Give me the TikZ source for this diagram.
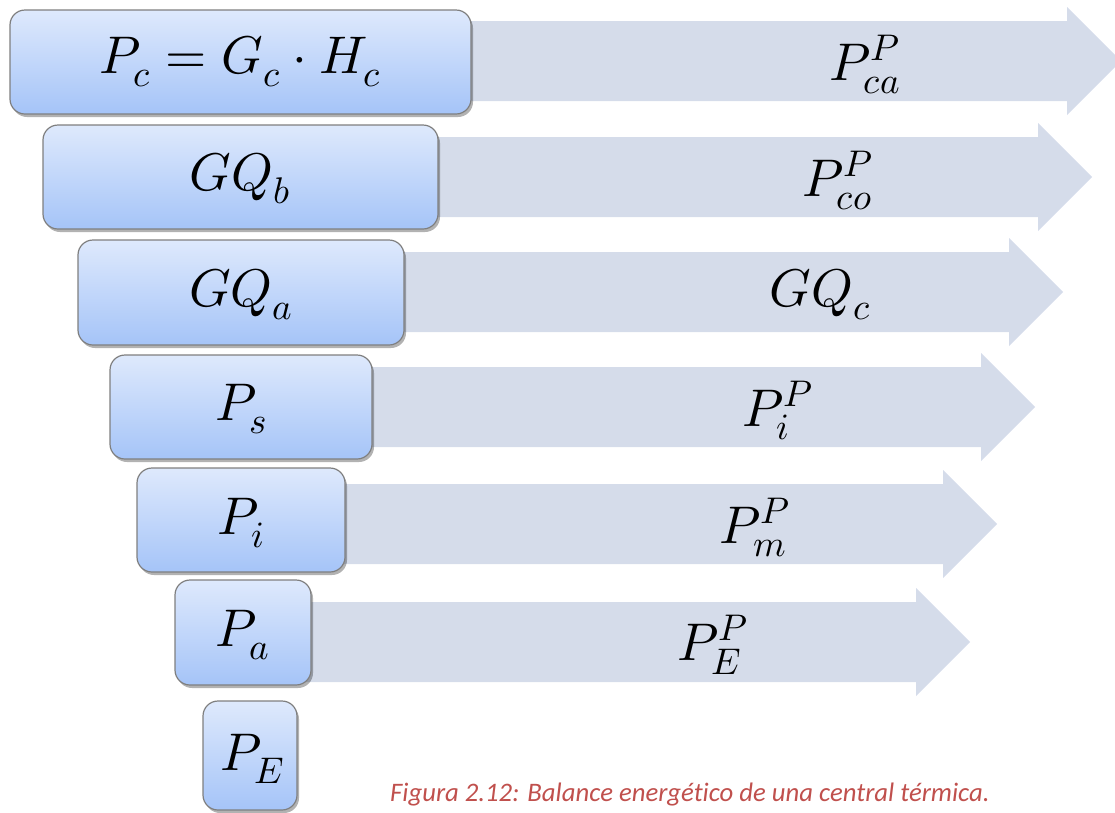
\documentclass[tikz,border=0pt]{standalone}
\usepackage{fontspec}
\usepackage{unicode-math}
\setmathfont{Latin Modern Math}
\newfontfamily\capfont[Ligatures=NoCommon]{Carlito}
\usetikzlibrary{shadows}
\definecolor{arrowfill}{HTML}{D5DCEA}
\definecolor{boxtop}{HTML}{DEE9FC}
\definecolor{boxbot}{HTML}{A5C4F8}
\definecolor{boxline}{HTML}{7F7F7F}
\definecolor{capred}{HTML}{C0504D}
\tikzset{
  stagebox/.style={draw=boxline, line width=1.2pt, rounded corners=15pt,
    top color=boxtop, bottom color=boxbot, inner sep=0pt,
    drop shadow={shadow xshift=2pt, shadow yshift=-3pt, opacity=0.3, fill=black}},
  mathtxt/.style={font=\fontsize{53}{63}\selectfont, inner sep=0pt, anchor=base},
  flowarrow/.style={fill=arrowfill, draw=none},
  captxt/.style={font=\capfont\itshape\fontsize{26.7}{32}\selectfont, text=capred, inner sep=0pt, anchor=base west}
}
\newcommand{\flowarr}[4]{% start x, center y, head base x, tip x
  \path[flowarrow] (#1,#2-40) -- (#3,#2-40) -- (#3,#2-54) -- (#4,#2) -- (#3,#2+54) -- (#3,#2+40) -- (#1,#2+40) -- cycle;}
\begin{document}
\begin{tikzpicture}[x=1pt,y=-1pt]
\useasboundingbox (0,0) rectangle (1115,812);
\clip (0,0) rectangle (1115,812);
% arrows
\flowarr{240}{61}{1067}{1121}
\flowarr{240}{177}{1038}{1092}
\flowarr{240}{292}{1009}{1063}
\flowarr{240}{407}{981}{1035}
\flowarr{240}{524}{943}{997}
\flowarr{240}{642}{916}{970}
% boxes
\node[stagebox, minimum width=461pt, minimum height=104pt] (b1) at (240.5,62) {};
\node[stagebox, minimum width=395pt, minimum height=104pt] (b2) at (240.5,177) {};
\node[stagebox, minimum width=326pt, minimum height=105pt] (b3) at (241,292.5) {};
\node[stagebox, minimum width=262pt, minimum height=104pt] (b4) at (241,407) {};
\node[stagebox, minimum width=208pt, minimum height=104pt] (b5) at (241,520) {};
\node[stagebox, minimum width=136pt, minimum height=105pt] (b6) at (243,632.5) {};
\node[stagebox, minimum width=94pt, minimum height=109pt] (b7) at (250,755.5) {};
% box texts
\node[mathtxt] (t1) at (240,73) {$P_c = G_c\cdot H_c$};
\node[mathtxt] (t2) at (240,190) {$GQ_b$};
\node[mathtxt] (t3) at (241,306) {$GQ_a$};
\node[mathtxt] (t4) at (241,420) {$P_s$};
\node[mathtxt] (t5) at (241,534) {$P_i$};
\node[mathtxt] (t6) at (243,646) {$P_a$};
\node[mathtxt] (t7) at (252,770) {$P_E$};
% arrow labels
\node[mathtxt] (l1) at (865,80) {$P_{ca}^{P}$};
\node[mathtxt] (l2) at (838,196) {$P_{co}^{P}$};
\node[mathtxt] (l3) at (820,306) {$GQ_c$};
\node[mathtxt] (l4) at (778,426) {$P_{i}^{P}$};
\node[mathtxt] (l5) at (755,543) {$P_{m}^{P}$};
\node[mathtxt] (l6) at (713,660) {$P_{E}^{P}$};
% caption
\node[captxt] (cap) at (390,801) {Figura 2.12: Balance energético de una central térmica.};
\end{tikzpicture}
\end{document}
